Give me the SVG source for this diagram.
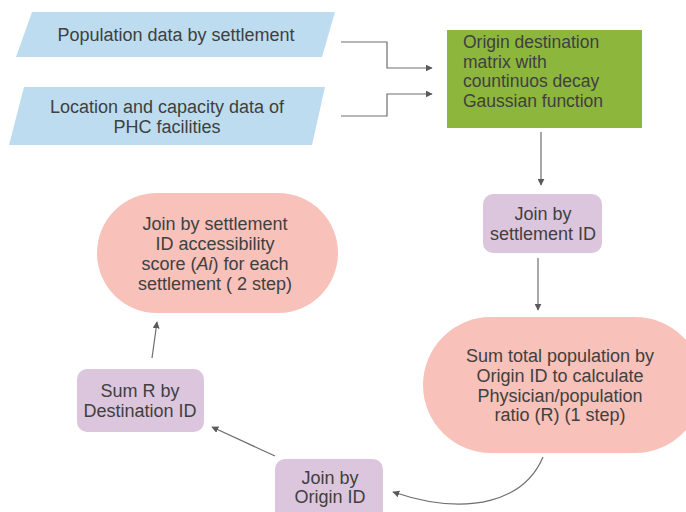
<svg xmlns="http://www.w3.org/2000/svg" width="686" height="512" viewBox="0 0 686 512">
<defs>
<style>
.t{font-family:"Liberation Sans",Arial,sans-serif;font-size:18px;fill:#404040;text-anchor:middle}
.tl{text-anchor:start;font-size:17.5px}
.c{fill:none;stroke:#6e6e6e;stroke-width:1.2}
.blue{fill:#bddcef}
.purple{fill:#dcc6dd}
.pink{fill:#f8c1b9}
.green{fill:#8db63c}
</style>
<marker id="ah" viewBox="0 0 10 10" refX="9" refY="5" markerWidth="7" markerHeight="7" markerUnits="userSpaceOnUse" orient="auto">
<path d="M0,0 L10,5 L0,10 z" fill="#5a5a5a"/>
</marker>
</defs>
<rect width="686" height="512" fill="#ffffff"/>
<g id="connectors">
<path class="c" d="M341,42 H387 V68 H432" marker-end="url(#ah)"/>
<path class="c" d="M341,116 H387 V94 H432" marker-end="url(#ah)"/>
<path class="c" d="M541,132 V185" marker-end="url(#ah)"/>
<path class="c" d="M538,258 V310" marker-end="url(#ah)"/>
<path class="c" d="M543,457 C525,500 470,518 393,492" marker-end="url(#ah)"/>
<path class="c" d="M275,456 L212,427" marker-end="url(#ah)"/>
<path class="c" d="M152,358 L157,322" marker-end="url(#ah)"/>
</g>
<g id="pop-data">
<polygon class="blue" points="32,12 335,12 322,57 16,57"/>
<text class="t" x="176" y="41">Population data by settlement</text>
</g>
<g id="phc-data">
<polygon class="blue" points="24,87 325,87 312,145 9,145"/>
<text class="t" x="167" y="113">Location and capacity data of</text>
<text class="t" x="167" y="133">PHC facilities</text>
</g>
<g id="od-matrix">
<rect class="green" x="447" y="30" width="195" height="98"/>
<text class="t tl" x="463" y="48">Origin destination</text>
<text class="t tl" x="463" y="67.5">matrix with</text>
<text class="t tl" x="463" y="87">countinuos decay</text>
<text class="t tl" x="463" y="106.5">Gaussian function</text>
</g>
<g id="join-settlement">
<rect class="purple" x="483" y="194" width="119" height="59" rx="10"/>
<text class="t" x="543" y="220">Join by</text>
<text class="t" x="543" y="240">settlement ID</text>
</g>
<g id="sum-population">
<rect class="pink" x="423" y="317" width="280" height="136" rx="68"/>
<text class="t" x="560" y="362">Sum total population by</text>
<text class="t" x="560" y="382">Origin ID to calculate</text>
<text class="t" x="560" y="402">Physician/population</text>
<text class="t" x="560" y="421">ratio (R) (1 step)</text>
</g>
<g id="join-origin">
<rect class="purple" x="275" y="459" width="108" height="70" rx="10"/>
<text class="t" x="330" y="484">Join by</text>
<text class="t" x="330" y="503">Origin ID</text>
</g>
<g id="sum-r">
<rect class="purple" x="77" y="369" width="127" height="63" rx="10"/>
<text class="t" x="140" y="397">Sum R by</text>
<text class="t" x="140" y="417">Destination ID</text>
</g>
<g id="accessibility">
<rect class="pink" x="97" y="193" width="241" height="120" rx="60"/>
<text class="t" x="215" y="230">Join by settlement</text>
<text class="t" x="215" y="250">ID accessibility</text>
<text class="t" x="215" y="270">score (<tspan font-style="italic">Ai</tspan>) for each</text>
<text class="t" x="215" y="290">settlement ( 2 step)</text>
</g>
</svg>
